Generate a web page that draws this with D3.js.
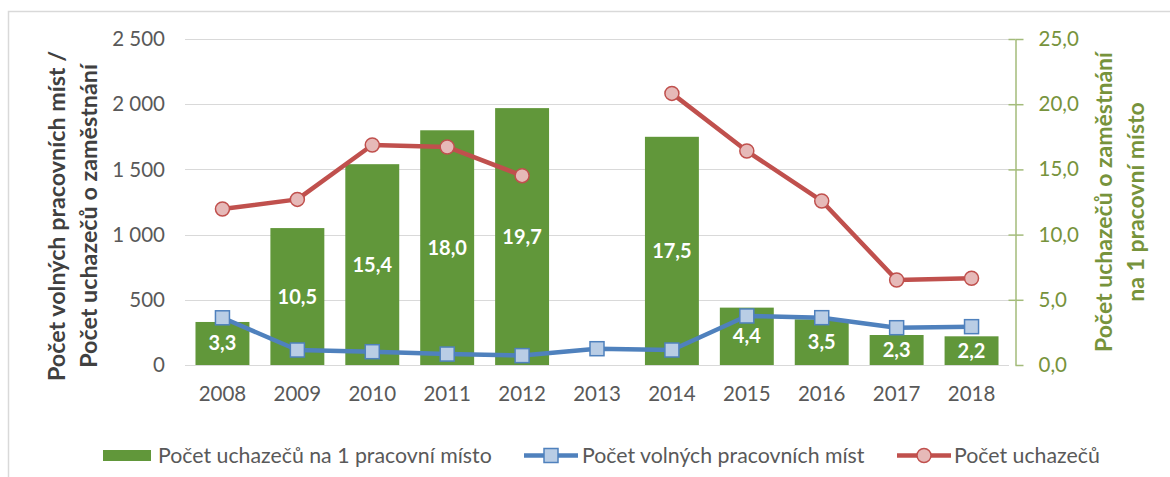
<!DOCTYPE html>
<html>
<head>
  <meta charset="utf-8">
  <style>
    body{
      margin:0;
      background:#fff;
      font-family: Lato, sans-serif;
    }
    .grid line{
      stroke:#d9d9d9;
      stroke-width:1px;
    }
    .tick-label{
      fill:#595959;
      font-size:20.5px;
    }
    .right-axis text{
      fill:#77933c;
      font-size:20.5px;
      font-family: Lato, sans-serif;
    }
    .bar-label{
      fill:#fff;
      font-size:20px;
      font-weight:bold;
    }
    .legend-label{
      fill:#595959;
      font-size:21.3px;
    }
  </style>
  <script src="https://d3js.org/d3.v7.min.js"></script>
</head>
<body>
<div class="chart"></div>
<script>
const years = [2008, 2009, 2010, 2011, 2012, 2013, 2014, 2015, 2016, 2017, 2018];
// applicants per one vacancy (right axis)
const ratio = [3.3, 10.5, 15.4, 18.0, 19.7, null, 17.5, 4.4, 3.5, 2.3, 2.2];
// vacancies (left axis)
const vacancies = [362, 115, 102, 84, 72, 125, 115, 376, 363, 286, 294];
// applicants (left axis)
const applicants = [1196, 1270, 1687, 1672, 1452, null, 2083, 1641, 1258, 652, 665];

const leftTicks = [0, 500, 1000, 1500, 2000, 2500];
const rightTicks = [0, 5, 10, 15, 20, 25];
const legendNames = ['Počet uchazečů na 1 pracovní místo', 'Počet volných pracovních míst', 'Počet uchazečů'];

const width = 1170;
const height = 477;
const plot = {left:185, right:1009, top:39, bottom:365};

const cz = d3.formatLocale({decimal:',', thousands:' ', grouping:[3], currency:['', '']});
const fmtLeft = cz.format(',d');
const fmtRight = cz.format('.1f');

const svg = d3.select('.chart')
  .append('svg')
  .attr('width', width)
  .attr('height', height);

// chart frame (right and bottom edges fall outside the picture)
svg.append('rect')
  .attr('x', 8.5).attr('y', 11.5)
  .attr('width', width).attr('height', height)
  .attr('fill', 'none')
  .attr('stroke', '#d9d9d9')
  .attr('stroke-width', 1.5);

const x = d3.scaleBand()
  .domain(years)
  .range([plot.left, plot.right])
  .paddingInner(0.28)
  .paddingOuter(0.14);

const yLeft = d3.scaleLinear().domain([0, 2500]).range([plot.bottom, plot.top]);
const yRight = d3.scaleLinear().domain([0, 25]).range([plot.bottom, plot.top]);

// gridlines
svg.append('g').attr('class', 'grid')
  .selectAll('line')
  .data(leftTicks)
  .join('line')
  .attr('x1', plot.left).attr('x2', plot.right)
  .attr('y1', d => Math.round(yLeft(d)) + 0.5)
  .attr('y2', d => Math.round(yLeft(d)) + 0.5);

// left axis labels
svg.append('g')
  .selectAll('text')
  .data(leftTicks)
  .join('text')
  .attr('class', 'tick-label')
  .attr('x', 165)
  .attr('y', d => yLeft(d))
  .attr('dy', '0.35em')
  .attr('text-anchor', 'end')
  .text(d => fmtLeft(d));

// right axis
const rightAxis = svg.append('g')
  .attr('class', 'right-axis')
  .attr('transform', `translate(1015.5,0)`)
  .call(d3.axisRight(yRight).tickValues(rightTicks).tickSizeInner(8).tickSizeOuter(0).tickPadding(15).tickFormat(fmtRight));
rightAxis.select('.domain').attr('stroke', '#a3bb7a').attr('stroke-width', 1.5);
rightAxis.selectAll('.tick line').attr('stroke', '#a3bb7a').attr('stroke-width', 1.5);
rightAxis.selectAll('.tick')
  .filter(d => d > 0)
  .append('line')
  .attr('x1', -7).attr('x2', 0)
  .attr('stroke', '#a3bb7a').attr('stroke-width', 1.5);

// x labels
svg.append('g')
  .selectAll('text')
  .data(years)
  .join('text')
  .attr('class', 'tick-label')
  .attr('x', d => x(d) + x.bandwidth() / 2)
  .attr('y', 401)
  .attr('text-anchor', 'middle')
  .text(d => d);

// bars
const barData = years.map((y, i) => ({year:y, value:ratio[i]})).filter(d => d.value != null);
svg.append('g')
  .selectAll('rect')
  .data(barData)
  .join('rect')
  .attr('x', d => x(d.year))
  .attr('width', x.bandwidth())
  .attr('y', d => yRight(d.value))
  .attr('height', d => yRight(0) - yRight(d.value))
  .attr('fill', '#61973a');

const cx = d => x(d.year) + x.bandwidth() / 2;

// vacancies line
const vacData = years.map((y, i) => ({year:y, value:vacancies[i]}));
const vacLine = d3.line().x(cx).y(d => yLeft(d.value));
svg.append('path')
  .attr('d', vacLine(vacData))
  .attr('fill', 'none')
  .attr('stroke', '#4f81bd')
  .attr('stroke-width', 4.5)
  .attr('stroke-linejoin', 'round');
svg.append('g')
  .selectAll('rect')
  .data(vacData)
  .join('rect')
  .attr('x', d => cx(d) - 7)
  .attr('y', d => yLeft(d.value) - 7)
  .attr('width', 14).attr('height', 14)
  .attr('fill', '#b9cde5')
  .attr('stroke', '#4f81bd')
  .attr('stroke-width', 1.5);

// applicants line, no value for 2013
const appData = years.map((y, i) => ({year:y, value:applicants[i]}));
const appLine = d3.line().defined(d => d.value != null).x(cx).y(d => yLeft(d.value));
svg.append('path')
  .attr('d', appLine(appData))
  .attr('fill', 'none')
  .attr('stroke', '#c0504d')
  .attr('stroke-width', 4.5)
  .attr('stroke-linejoin', 'round');
svg.append('g')
  .selectAll('circle')
  .data(appData.filter(d => d.value != null))
  .join('circle')
  .attr('cx', cx)
  .attr('cy', d => yLeft(d.value))
  .attr('r', 7)
  .attr('fill', '#e6b9b8')
  .attr('stroke', '#c0504d')
  .attr('stroke-width', 1.5);

// bar labels
svg.append('g')
  .selectAll('text')
  .data(barData)
  .join('text')
  .attr('class', 'bar-label')
  .attr('x', cx)
  .attr('y', d => (yRight(d.value) + yRight(0)) / 2)
  .attr('dy', '0.35em')
  .attr('text-anchor', 'middle')
  .text(d => fmtRight(d.value));

// axis titles
const leftTitle = svg.append('text')
  .attr('transform', 'translate(0,216) rotate(-90)')
  .attr('text-anchor', 'middle')
  .attr('fill', '#404040')
  .style('font-size', '23.3px')
  .style('font-weight', 'bold');
leftTitle.append('tspan').attr('x', 0).attr('y', 65).text('Počet volných pracovních míst /');
leftTitle.append('tspan').attr('x', 0).attr('y', 97).text('Počet uchazečů o zaměstnání');

const rightTitle = svg.append('text')
  .attr('transform', 'translate(0,202) rotate(-90)')
  .attr('text-anchor', 'middle')
  .attr('fill', '#77933c')
  .style('font-size', '23px')
  .style('font-weight', 'bold');
rightTitle.append('tspan').attr('x', 0).attr('y', 1112).text('Počet uchazečů o zaměstnání');
rightTitle.append('tspan').attr('x', 0).attr('y', 1144).text('na 1 pracovní místo');

// legend
const legend = svg.append('g');
legend.append('rect')
  .attr('x', 103).attr('y', 450)
  .attr('width', 48).attr('height', 11)
  .attr('fill', '#61973a');
legend.append('line')
  .attr('x1', 524).attr('x2', 578).attr('y1', 455.5).attr('y2', 455.5)
  .attr('stroke', '#4f81bd').attr('stroke-width', 4.5);
legend.append('rect')
  .attr('x', 544).attr('y', 448.5).attr('width', 14).attr('height', 14)
  .attr('fill', '#b9cde5').attr('stroke', '#4f81bd').attr('stroke-width', 1.5);
legend.append('line')
  .attr('x1', 897).attr('x2', 951).attr('y1', 455.5).attr('y2', 455.5)
  .attr('stroke', '#c0504d').attr('stroke-width', 4.5);
legend.append('circle')
  .attr('cx', 924).attr('cy', 455.5).attr('r', 7)
  .attr('fill', '#e6b9b8').attr('stroke', '#c0504d').attr('stroke-width', 1.5);

legend.selectAll('text.legend-label')
  .data(legendNames)
  .join('text')
  .attr('class', 'legend-label')
  .attr('x', (d, i) => [158, 582, 954][i])
  .attr('y', 463)
  .text(d => d);
</script>
</body>
</html>
